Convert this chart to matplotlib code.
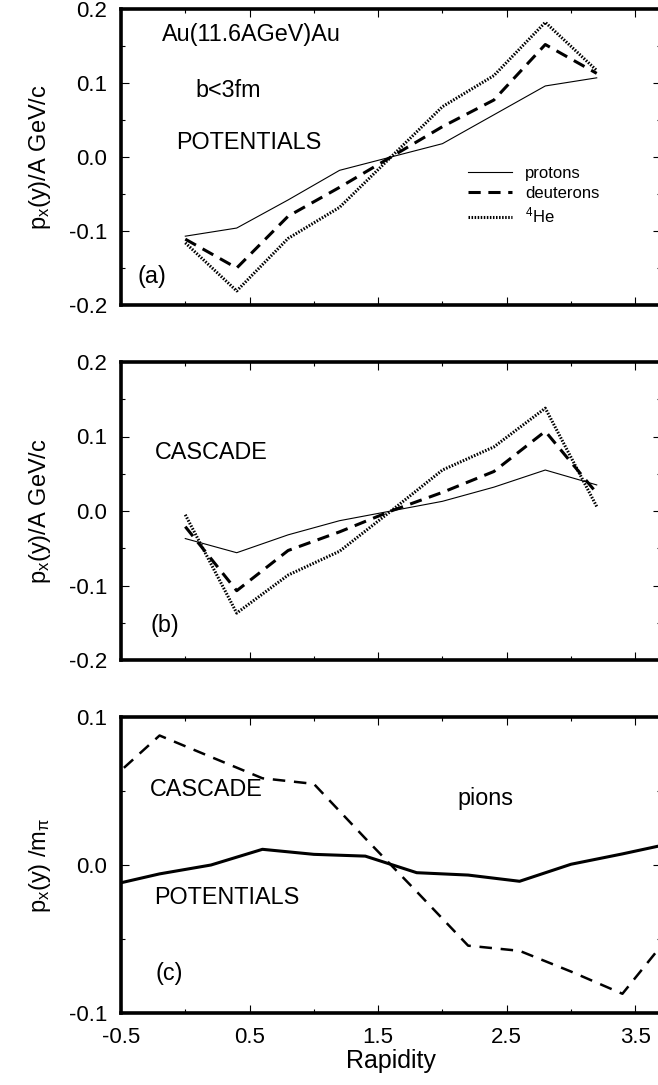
import matplotlib
matplotlib.use('Agg')
import matplotlib.pyplot as plt
from matplotlib.ticker import FixedLocator, MultipleLocator, FormatStrFormatter

plt.rcParams['font.family'] = ['Liberation Sans', 'DejaVu Sans']
plt.rcParams['mathtext.fontset'] = 'custom'
plt.rcParams['mathtext.rm'] = 'Liberation Sans'
plt.rcParams['mathtext.it'] = 'Liberation Sans:italic'
plt.rcParams['axes.unicode_minus'] = False

# rapidity grid for the fragment curves
y_frag = [0.0, 0.4, 0.8, 1.2, 1.6, 2.0, 2.4, 2.8, 3.2]

# (a) with potentials
prot_pot = [-0.107, -0.096, -0.058, -0.018, 0.0, 0.018, 0.057, 0.096, 0.107]
deut_pot = [-0.111, -0.150, -0.080, -0.041, 0.0, 0.041, 0.077, 0.152, 0.113]
he_pot = [-0.116, -0.181, -0.110, -0.068, 0.0, 0.068, 0.110, 0.182, 0.117]

# (b) cascade
prot_cas = [-0.037, -0.056, -0.032, -0.013, 0.0, 0.013, 0.032, 0.055, 0.035]
deut_cas = [-0.021, -0.107, -0.053, -0.028, 0.0, 0.025, 0.053, 0.107, 0.024]
he_cas = [-0.005, -0.137, -0.086, -0.054, 0.0, 0.055, 0.086, 0.138, 0.006]

# (c) pions
y_pion = [-0.6, -0.2, 0.2, 0.6, 1.0, 1.4, 1.8, 2.2, 2.6, 3.0, 3.4, 3.8]
pion_pot = [-0.014, -0.006, 0.0, 0.0106, 0.0072, 0.006, -0.0052, -0.0068, -0.011, 0.0005, 0.0075, 0.015]
pion_cas = [0.056, 0.0875, 0.073, 0.0586, 0.0548, 0.018, -0.018, -0.0545, -0.058, -0.072, -0.087, -0.044]

x_major = [-0.5, 0.5, 1.5, 2.5, 3.5]
x_minor = [0.0, 1.0, 2.0, 3.0]

W, H = 658, 1085
fig = plt.figure(figsize=(W / 100, H / 100), dpi=100)


def make_axes(top, bottom):
    left, right = 121, 661
    ax = fig.add_axes([left / W, 1 - bottom / H, (right - left) / W, (bottom - top) / H])
    for sp in ax.spines.values():
        sp.set_linewidth(2.6)
    ax.set_xlim(-0.5, 3.7)
    ax.xaxis.set_major_locator(FixedLocator(x_major))
    ax.xaxis.set_minor_locator(FixedLocator(x_minor))
    ax.xaxis.set_major_formatter(FormatStrFormatter('%.1f'))
    ax.tick_params(which='both', direction='in', top=True, right=True, width=0.8)
    ax.tick_params(which='major', length=6, labelsize=16, pad=10)
    ax.tick_params(which='minor', length=3)
    return ax


def frag_panel(ax, prot, deut, he):
    ax.plot(y_frag, prot, color='black', lw=0.8, label='protons')
    ax.plot(y_frag, deut, color='black', lw=2.2, ls=(0, (4, 2.5)), label='deuterons')
    ax.plot(y_frag, he, color='black', lw=2.2, ls=(0, (0.5, 0.5)), label='$^{4}$He')
    ax.set_ylim(-0.2, 0.2)
    ax.yaxis.set_major_locator(MultipleLocator(0.1))
    ax.yaxis.set_minor_locator(MultipleLocator(0.05))
    ax.yaxis.set_major_formatter(FormatStrFormatter('%.1f'))
    ax.set_ylabel(r'$\mathregular{p_x}$(y)/A GeV/c', fontsize=17, labelpad=11)
    ax.tick_params(axis='x', labelbottom=False)


ax1 = make_axes(9, 305)
frag_panel(ax1, prot_pot, deut_pot, he_pot)
ax1.text(-0.181, 0.165, 'Au(11.6AGeV)Au', fontsize=16.8, va='center')
ax1.text(0.076, 0.0905, 'b<3fm', fontsize=16.8, va='center')
ax1.text(-0.072, 0.019, 'POTENTIALS', fontsize=16.8, va='center')
ax1.text(-0.368, -0.161, '(a)', fontsize=16.8, va='center')
ax1.legend(loc='upper left', bbox_to_anchor=(0.643, 0.47), frameon=False,
           fontsize=12, handlelength=2.6, handletextpad=0.8, labelspacing=0.3,
           borderpad=0, borderaxespad=0)

ax2 = make_axes(362, 660)
frag_panel(ax2, prot_cas, deut_cas, he_cas)
ax2.text(-0.235, 0.079, 'CASCADE', fontsize=16.8, va='center')
ax2.text(-0.267, -0.154, '(b)', fontsize=16.8, va='center')

ax3 = make_axes(717, 1013)
ax3.plot(y_pion, pion_pot, color='black', lw=2.2)
ax3.plot(y_pion, pion_cas, color='black', lw=1.8, ls=(0, (5, 3.5)))
ax3.set_ylim(-0.1, 0.1)
ax3.yaxis.set_major_locator(MultipleLocator(0.1))
ax3.yaxis.set_minor_locator(MultipleLocator(0.05))
ax3.yaxis.set_major_formatter(FormatStrFormatter('%.1f'))
ax3.set_ylabel(r'$\mathregular{p_x}$(y) /m$_{\mathregular{π}}$', fontsize=17, labelpad=11)
ax3.set_xlabel('Rapidity', fontsize=18, labelpad=1)
ax3.text(-0.274, 0.051, 'CASCADE', fontsize=16.8, va='center')
ax3.text(2.115, 0.0446, 'pions', fontsize=16.8, va='center')
ax3.text(-0.243, -0.022, 'POTENTIALS', fontsize=16.8, va='center')
ax3.text(-0.228, -0.073, '(c)', fontsize=16.8, va='center')

fig.savefig('out.png', dpi=100)
